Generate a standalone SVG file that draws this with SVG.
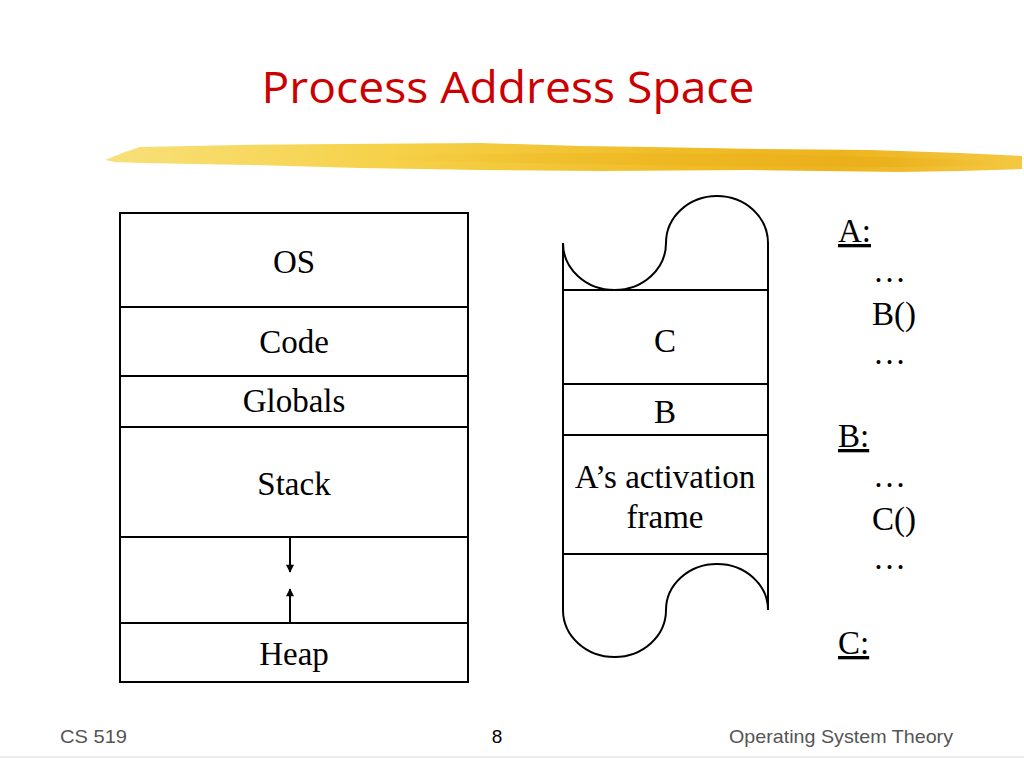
<svg xmlns="http://www.w3.org/2000/svg" width="1024" height="768" viewBox="0 0 1024 768">
  <style>
    .box { fill: none; stroke: #000; stroke-width: 2; }
    .lbl { font-family: "Liberation Serif", "Times New Roman", serif; font-size: 33px; fill: #000; text-anchor: middle; }
    .code { font-family: "Liberation Serif", "Times New Roman", serif; font-size: 33px; fill: #000; }
    .foot { font-family: "Liberation Sans", Arial, sans-serif; font-size: 19px; fill: #555; }
    .arrow { stroke: #000; stroke-width: 2; fill: none; }
  </style>
  <defs>
    <linearGradient id="brush" x1="0" y1="0" x2="1" y2="0">
      <stop offset="0" stop-color="#F8E07A"/>
      <stop offset="0.3" stop-color="#F6D24A"/>
      <stop offset="0.6" stop-color="#F0BE2A"/>
      <stop offset="0.8" stop-color="#EDB41E"/>
      <stop offset="1" stop-color="#F4C843"/>
    </linearGradient>
    <linearGradient id="streak" x1="0" y1="0" x2="1" y2="0">
      <stop offset="0" stop-color="#EDB41E" stop-opacity="0"/>
      <stop offset="0.4" stop-color="#EDB41E" stop-opacity="0.5"/>
      <stop offset="0.8" stop-color="#E8AC18" stop-opacity="0.6"/>
      <stop offset="1" stop-color="#EDB41E" stop-opacity="0"/>
    </linearGradient>
    <marker id="ah" viewBox="0 0 10 10" refX="9" refY="5" markerWidth="4.5" markerHeight="4" orient="auto" markerUnits="strokeWidth">
      <path d="M0,0 L10,5 L0,10 z" fill="#000"/>
    </marker>
  </defs>
  <rect width="1024" height="768" fill="#fff"/>

  <!-- title -->
  <text x="508" y="103" text-anchor="middle" font-family="'Open Sans', 'Liberation Sans', sans-serif" font-size="43" fill="#CC0000" textLength="493" lengthAdjust="spacingAndGlyphs">Process Address Space</text>

  <!-- brush stroke -->
  <path d="M105,160 L125,152 L140,147 L240,145 L340,144 L480,143 L580,146 L650,147 L760,149 L870,150 L960,153 L1022,156 L1022,169 L960,171 L900,172 L750,170 L600,171 L480,170 L360,168 L250,165 L140,163 L115,162 Z" fill="url(#brush)"/>
  <path d="M380,156 L560,153 L760,154 L920,158 L1010,162 L1010,165 L900,167 L700,166 L520,163 L380,160 Z" fill="url(#streak)"/>

  <!-- left memory layout -->
  <g id="address-space">
    <rect class="box" x="120" y="213" width="348" height="469"/>
    <g id="os"><line class="box" x1="120" y1="307" x2="468" y2="307"/><text class="lbl" x="294" y="273">OS</text></g>
    <g id="code"><line class="box" x1="120" y1="376" x2="468" y2="376"/><text class="lbl" x="294" y="353">Code</text></g>
    <g id="globals"><line class="box" x1="120" y1="427" x2="468" y2="427"/><text class="lbl" x="294" y="412">Globals</text></g>
    <g id="stack"><line class="box" x1="120" y1="537" x2="468" y2="537"/><text class="lbl" x="294" y="495">Stack</text></g>
    <g id="free"><line class="box" x1="120" y1="623" x2="468" y2="623"/></g>
    <g id="heap"><text class="lbl" x="294" y="665">Heap</text></g>
  </g>

  <g id="connectors">
    <line class="arrow" x1="290" y1="537" x2="290" y2="572" marker-end="url(#ah)"/>
    <line class="arrow" x1="290" y1="623" x2="290" y2="589" marker-end="url(#ah)"/>
  </g>

  <!-- right stack -->
  <g id="call-stack">
    <path class="box" d="M563,243 A51.5,47 0 0 0 666,243 A51,47 0 0 1 768,243 L768,610 M563,243 L563,610 A51.5,47 0 0 0 666,610 A51,46 0 0 1 768,610"/>
    <line class="box" x1="563" y1="290" x2="768" y2="290"/>
    <g id="frame-c"><line class="box" x1="563" y1="384" x2="768" y2="384"/><text class="lbl" x="665" y="352">C</text></g>
    <g id="frame-b"><line class="box" x1="563" y1="435" x2="768" y2="435"/><text class="lbl" x="665" y="423">B</text></g>
    <g id="frame-a"><line class="box" x1="563" y1="554" x2="768" y2="554"/><text class="lbl" x="665" y="488">A’s activation</text><text class="lbl" x="665" y="528">frame</text></g>
  </g>

  <!-- code listing -->
  <g id="listing">
    <text class="code" x="838" y="242" text-decoration="underline">A:</text>
    <text class="code" x="873" y="282">…</text>
    <text class="code" x="872" y="325">B()</text>
    <text class="code" x="873" y="364">…</text>
    <text class="code" x="838" y="447" text-decoration="underline">B:</text>
    <text class="code" x="873" y="487">…</text>
    <text class="code" x="872" y="530">C()</text>
    <text class="code" x="873" y="569">…</text>
    <text class="code" x="838" y="654" text-decoration="underline">C:</text>
  </g>

  <!-- footer -->
  <text class="foot" x="60" y="743" textLength="67" lengthAdjust="spacingAndGlyphs">CS 519</text>
  <text x="497" y="743" text-anchor="middle" font-family="'Liberation Sans', Arial, sans-serif" font-size="19" fill="#000">8</text>
  <text class="foot" x="729" y="743" textLength="224" lengthAdjust="spacingAndGlyphs">Operating System Theory</text>
  <line x1="0" y1="757" x2="1024" y2="757" stroke="#e6e6e6" stroke-width="1.5"/>
</svg>
